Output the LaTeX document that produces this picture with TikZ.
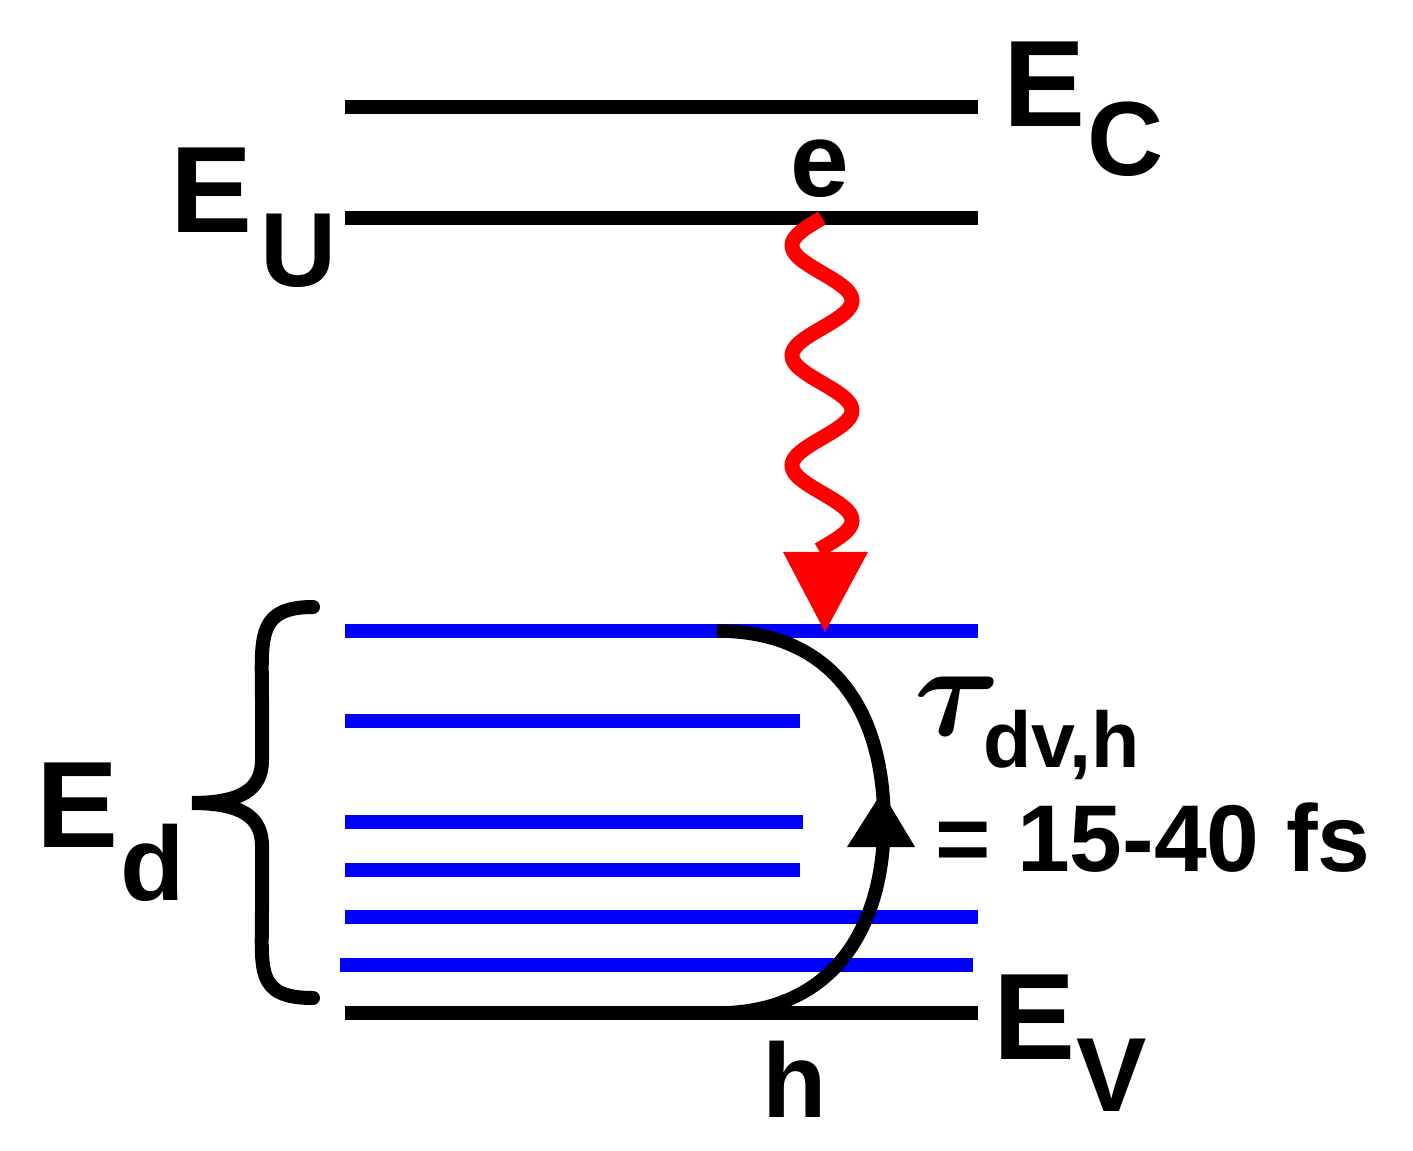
\documentclass[tikz,border=0pt]{standalone}
\usepackage{fontspec}
\setmainfont{Liberation Sans}
\begin{document}
\begin{tikzpicture}[x=0.02cm,y=-0.02cm,
  lvl/.style={line width=0.27cm},
  blk/.style={lvl,black},
  blu/.style={lvl,blue},
  big/.style={font=\fontsize{70pt}{70pt}\bfseries\selectfont,inner sep=0},
  sub/.style={font=\fontsize{60pt}{60pt}\bfseries\selectfont,inner sep=0},
  mid/.style={font=\fontsize{54pt}{54pt}\bfseries\selectfont,inner sep=0},
  small/.style={font=\fontsize{45pt}{45pt}\bfseries\selectfont,inner sep=0}]
\useasboundingbox (0,0) rectangle (1413,1151);
% levels
\draw[blk] (345,107) -- (978,107);
\draw[blk] (345,218) -- (978,218);
\draw[blu] (345,631) -- (978,631);
\draw[blu] (345,721) -- (800,721);
\draw[blu] (345,822) -- (803,822);
\draw[blu] (345,870) -- (800,870);
\draw[blu] (345,917) -- (978,917);
\draw[blu] (340,965) -- (973,965);
\draw[blk] (345,1013) -- (978,1013);
% labels
\node[big,anchor=south west] (ec) at (1003,127) {E};
\node[sub,anchor=south west] (ecs) at (1087,177) {C};
\node[big,anchor=south west] (eu) at (170,233) {E};
\node[sub,anchor=south west] (eus) at (260,288) {U};
\node[big,anchor=south west] (ed) at (36,848) {E};
\node[sub,anchor=south west] (eds) at (120,902) {d};
\node[big,anchor=south west] (ev) at (993,1060) {E};
\node[sub,anchor=south west] (evs) at (1076,1112) {V};
\node[sub,anchor=base] (e) at (820,197) {e};
\node[sub,anchor=base] (h) at (795,1117) {h};
\node[anchor=base west,inner sep=0,scale=7.5,font=\boldmath] (tau) at (912,735) {$\tau$};
\node[small,anchor=south west] (taus) at (983,780) {dv,h};
\node[mid,anchor=south west] (val) at (935,873) {= 15-40 fs};
% wave
\draw[red,line width=0.3cm,domain=0:332,samples=150,smooth] plot ({822-30*sin(3.2727*\x)},{218+\x});
\fill[red] (783,552) -- (868,552) -- (825,632) -- cycle;
% curve
\draw[line width=0.27cm] (717,1013) .. controls (835,1013) and (884,925) .. (884,822) .. controls (884,714) and (835,631) .. (717,631);
\fill (882,792) -- (915,847) -- (847,847) -- cycle;
% brace
\draw[line width=0.28cm,line cap=round] (313,607) .. controls (255,607) and (262,640) .. (262,700)
  -- (262,760) .. controls (262,790) and (240,803) .. (192,803)
  .. controls (240,803) and (262,816) .. (262,846) -- (262,910)
  .. controls (262,970) and (255,998) .. (313,998);
\end{tikzpicture}
\end{document}
